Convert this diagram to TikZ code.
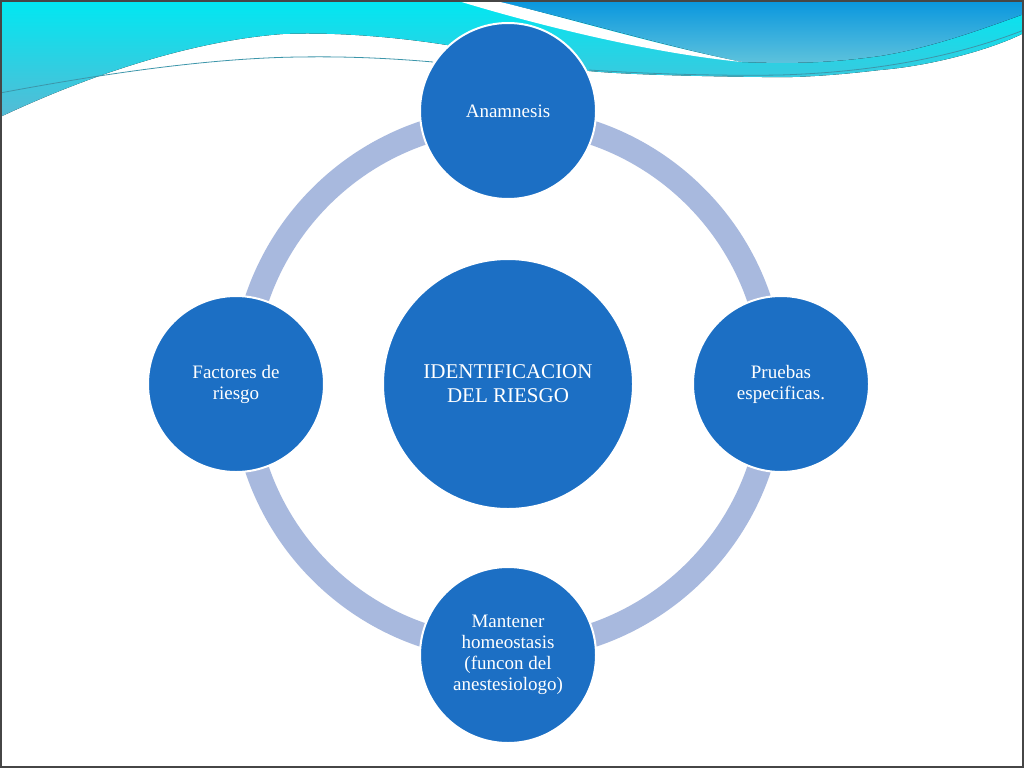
\documentclass[tikz,border=0pt]{standalone}
\usepackage{fontspec}
\setmainfont{Liberation Serif}
\usetikzlibrary{backgrounds}
\definecolor{nodeblue}{RGB}{28,111,196}
\definecolor{ringblue}{RGB}{168,185,222}
\definecolor{cyanTop}{RGB}{0,232,242}
\definecolor{cyanBot}{RGB}{86,186,212}
\definecolor{blueTop}{RGB}{8,150,222}
\definecolor{blueBot}{RGB}{95,195,220}
\definecolor{wire}{RGB}{60,150,170}
\definecolor{frame}{RGB}{70,70,70}
\begin{document}
\begin{tikzpicture}[x=1pt,y=-1pt,
  bubble/.style={circle, fill=nodeblue, draw=white, line width=2pt, text=white,
    align=center, inner sep=0pt, minimum size=176pt,
    font=\fontsize{19}{21}\selectfont},
  hub/.style={bubble, minimum size=250pt, font=\fontsize{21}{24}\selectfont},
  ringarc/.style={ringblue, line width=24pt}]
\useasboundingbox (0,0) rectangle (1024,768);
% banner
\fill[top color=cyanTop, bottom color=cyanBot]
  (0,0) -- (1024,0) -- (1024,33)
  .. controls (990,50) and (930,66) .. (880,70)
  .. controls (830,76) and (790,78) .. (762,77)
  .. controls (680,76) and (620,74) .. (589,71)
  .. controls (530,62) and (480,50) .. (447,45)
  .. controls (390,36) and (330,32) .. (283,34)
  .. controls (200,40) and (100,70) .. (0,117) -- cycle;
\fill[top color=blueTop, bottom color=blueBot]
  (490,0) -- (1024,0) -- (1024,14)
  .. controls (980,30) and (930,48) .. (880,56)
  .. controls (830,63) and (790,64) .. (742,62)
  .. controls (660,45) and (560,15) .. (490,0) -- cycle;
\fill[white]
  (455,0) .. controls (520,20) and (640,52) .. (742,62)
  .. controls (660,46) and (560,16) .. (492,0) -- cycle;
\draw[wire, line width=0.8pt]
  (0,93) .. controls (80,78) and (200,58) .. (300,57)
  .. controls (360,56) and (410,60) .. (433,62);
\draw[wire, line width=0.8pt]
  (589,70) .. controls (650,74) and (720,76) .. (780,75)
  .. controls (880,72) and (960,55) .. (1024,30);
% nodes
\node[hub] (hub) at (508,384) {IDENTIFICACION\\DEL RIESGO};
\node[bubble] (ana) at (508,111) {Anamnesis};
\node[bubble] (pru) at (781,384) {Pruebas\\especificas.};
\node[bubble] (man) at (508,655) {Mantener\\homeostasis\\(funcon del\\anestesiologo)};
\node[bubble] (fac) at (236,384) {Factores de\\riesgo};
\begin{pgfonlayer}{background}
\fill[white] (0,0) rectangle (1024,768);
\draw[ringarc] (hub.center) circle[radius=265pt];
\end{pgfonlayer}
\draw[frame, line width=2pt] (1,1) rectangle (1023,767);
\end{tikzpicture}
\end{document}
